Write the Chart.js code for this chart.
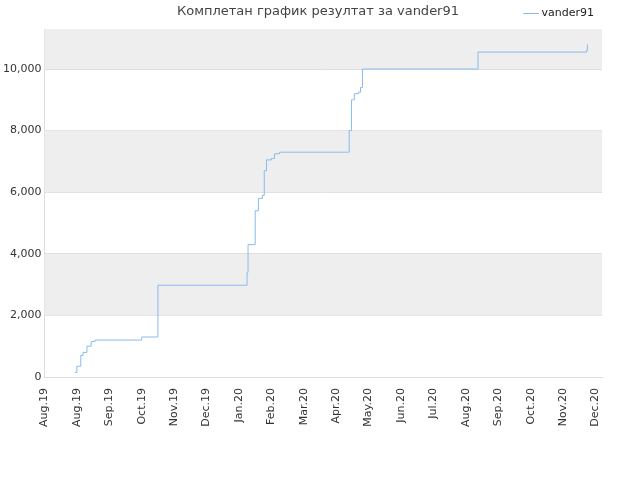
<!DOCTYPE html><html><head><meta charset="utf-8">
<script src="https://cdn.jsdelivr.net/npm/chart.js@4"></script>
<style>body{margin:0;background:#fff}</style></head><body><canvas id="c" width="640" height="480"></canvas>
<script>
const tickLabels=["Aug.19","Aug.19","Sep.19","Oct.19","Nov.19","Dec.19","Jan.20","Feb.20","Mar.20","Apr.20","May.20","Jun.20","Jul.20","Aug.20","Sep.20","Oct.20","Nov.20","Dec.20"];
const xs=[0.94,1.0,1.06,1.12,1.19,1.31,1.44,1.56,2.97,3.0,3.5,3.5,6.25,6.28,6.5,6.6,6.72,6.78,6.85,7.0,7.1,7.25,9.375,9.4,9.47,9.56,9.69,9.75,9.81,13.375,16.72,16.75];
const ys=[150,350,350,700,800,1000,1150,1200,1200,1300,1500,2980,3400,4300,5400,5800,5900,6700,7050,7100,7250,7300,7300,8000,9000,9200,9250,9400,10000,10550,10600,10800];
const bands={id:'bands',beforeDatasetsDraw(ch){const y=ch.scales.y,a=ch.chartArea,c=ch.ctx;c.save();c.fillStyle='#eeeeee';[[2000,4000],[6000,8000],[10000,y.max]].forEach(([l,h])=>{const t=y.getPixelForValue(h),b=y.getPixelForValue(l);c.fillRect(a.left,t,a.right-a.left,b-t);});c.restore();},
afterDraw(ch){const c=ch.ctx;c.save();c.fillStyle='#444';c.font='13px "DejaVu Sans"';c.textAlign='center';c.textBaseline='middle';c.fillText('Комплетан график резултат за vander91',318,12);c.restore();}};
new Chart(document.getElementById('c'),{type:'line',data:{datasets:[{label:'vander91',data:xs.map((x,i)=>({x,y:ys[i]})),stepped:true,borderColor:'#88bbee',backgroundColor:'#88bbee',borderWidth:1,pointRadius:0,fill:false}]},
options:{responsive:false,animation:false,layout:{padding:{left:0,right:38,top:0,bottom:50}},
plugins:{title:{display:false},
legend:{position:'top',align:'end',labels:{usePointStyle:true,pointStyle:'line',boxWidth:10,padding:8,color:'#222',font:{family:'DejaVu Sans',size:11}}},tooltip:{enabled:false}},
scales:{x:{type:'linear',min:0,max:17.2,afterBuildTicks(s){s.ticks=tickLabels.map((_,i)=>({value:i}));},ticks:{autoSkip:false,maxRotation:90,minRotation:90,color:'#333',font:{family:'DejaVu Sans',size:11},callback:(v)=>tickLabels[v]},grid:{display:false},border:{color:'#ddd'}},
y:{min:0,max:11300,afterBuildTicks(s){s.ticks=[0,2000,4000,6000,8000,10000].map(v=>({value:v}));},ticks:{color:'#333',font:{family:'DejaVu Sans',size:11}},grid:{color:'#dddddd',drawTicks:false},border:{color:'#ddd'}}}},plugins:[bands]});
</script></body></html>
